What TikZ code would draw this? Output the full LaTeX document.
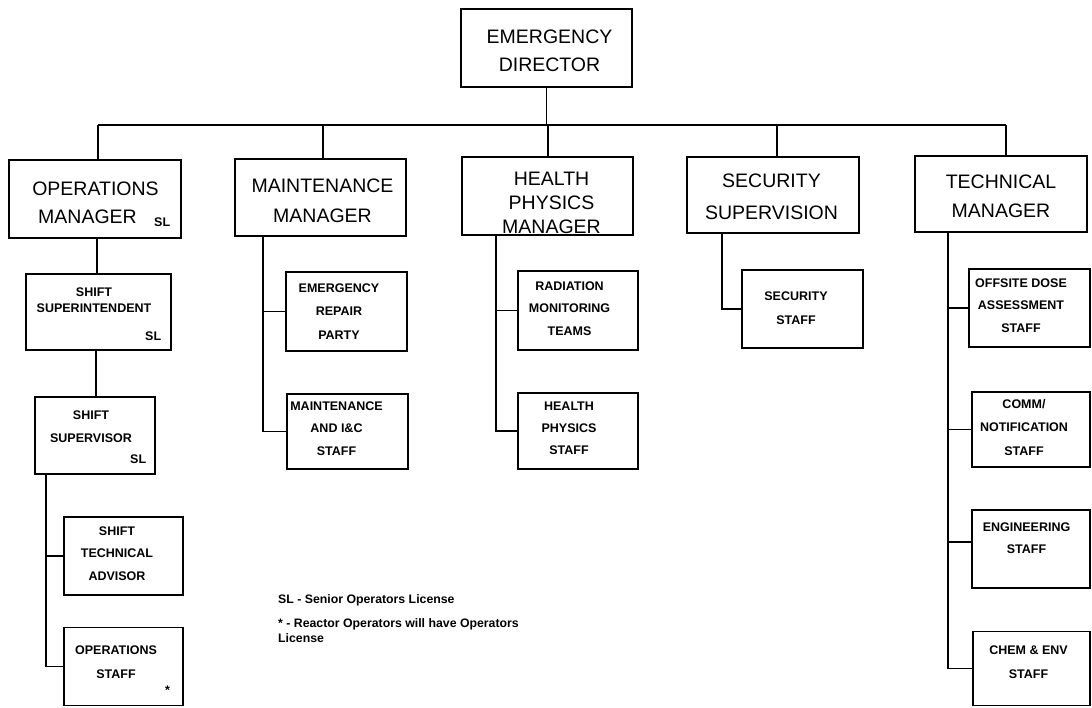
\documentclass[tikz,border=0pt]{standalone}
\usepackage{fontspec}
\setmainfont{Liberation Sans}
\usetikzlibrary{calc}
\newcommand\tx[3]{\kern#1\kern#1\raisebox{#2}[\height][\depth]{\begin{tabular}{@{}c@{}}#3\end{tabular}}}
\newcommand\fsz[2]{\fontsize{#1}{#2}\selectfont}
\tikzset{
  mgr/.style={draw, line width=1.6pt, inner sep=0pt, font=\fsz{19.5}{28}},
  staff/.style={draw, line width=1.6pt, inner sep=0pt, font=\bfseries\fsz{12.5}{23}},
  conn/.style={line width=1.6pt},
  note/.style={font=\bfseries\fsz{12.3}{15}, inner sep=0pt},
  slmark/.style={font=\bfseries\fsz{12.5}{15}, inner sep=0pt},
}
\begin{document}
\begin{tikzpicture}[x=1pt, y=-1pt]
\fill[white] (0,0) rectangle (1092,707);
\useasboundingbox (0,0) rectangle (1092,707);

% top level
\node[mgr, minimum width=171pt, minimum height=78pt] (ed) at (546.5,48) {\tx{3pt}{-3.4pt}{EMERGENCY\\DIRECTOR}};

% managers
\node[mgr, minimum width=172pt, minimum height=78pt] (om) at (95,199) {\tx{0.5pt}{-4.4pt}{OPERATIONS\\MANAGER\hspace*{16pt}}};
\node[mgr, minimum width=171pt, minimum height=77pt, font=\fsz{19.5}{30}] (mm) at (320.5,197.5) {\tx{2pt}{-3.5pt}{MAINTENANCE\\MANAGER}};
\node[mgr, minimum width=171pt, minimum height=78pt, font=\fsz{19.5}{24}] (hpm) at (547.5,196) {\tx{4pt}{-8.2pt}{HEALTH\\PHYSICS\\MANAGER}};
\node[mgr, minimum width=172pt, minimum height=76pt, font=\fsz{19.5}{32}] (ss) at (773,195) {\tx{-1.5pt}{-1.6pt}{SECURITY\\SUPERVISION}};
\node[mgr, minimum width=172pt, minimum height=76pt, font=\fsz{19.5}{29}] (tm) at (1001,194) {\tx{0pt}{-2.7pt}{TECHNICAL\\MANAGER}};

% operations chain
\node[staff, minimum width=145pt, minimum height=76pt, font=\bfseries\fsz{12.5}{16}] (ssup) at (98.5,312) {\tx{-4.5pt}{11.2pt}{SHIFT\\SUPERINTENDENT}};
\node[staff, minimum width=120pt, minimum height=77pt, font=\bfseries\fsz{12.5}{23}] (ssvr) at (95,435.5) {\tx{-4pt}{9.6pt}{SHIFT\\SUPERVISOR}};
\node[staff, minimum width=119pt, minimum height=78pt, font=\bfseries\fsz{12.5}{22.5}] (sta) at (123.5,556) {\tx{-6.5pt}{3pt}{SHIFT\\TECHNICAL\\ADVISOR}};
\node[staff, minimum width=119pt, minimum height=78pt, font=\bfseries\fsz{12.5}{24}] (os) at (123.5,666.5) {\tx{-7.5pt}{4.8pt}{OPERATIONS\\STAFF}};

% maintenance
\node[staff, minimum width=121pt, minimum height=79pt, font=\bfseries\fsz{12.5}{23.5}] (erp) at (346.5,311.5) {\tx{-7.5pt}{0.7pt}{EMERGENCY\\REPAIR\\PARTY}};
\node[staff, minimum width=121pt, minimum height=75pt, font=\bfseries\fsz{12.5}{22.5}] (mic) at (347.5,431.5) {\tx{-11pt}{3.5pt}{MAINTENANCE\\AND I\&C\\STAFF}};

% health physics
\node[staff, minimum width=120pt, minimum height=79pt, font=\bfseries\fsz{12.5}{22.5}] (rmt) at (578,310.5) {\tx{-8.5pt}{2.5pt}{RADIATION\\MONITORING\\TEAMS}};
\node[staff, minimum width=120pt, minimum height=76pt, font=\bfseries\fsz{12.5}{22}] (hps) at (578,431) {\tx{-9pt}{3.4pt}{HEALTH\\PHYSICS\\STAFF}};

% security
\node[staff, minimum width=121pt, minimum height=78pt, font=\bfseries\fsz{12.5}{24}] (secs) at (802.5,309) {\tx{-6.5pt}{1.8pt}{SECURITY\\STAFF}};

% technical
\node[staff, minimum width=121pt, minimum height=78pt, font=\bfseries\fsz{12.5}{22.5}] (oda) at (1029.5,308) {\tx{-8.5pt}{3pt}{OFFSITE DOSE\\ASSESSMENT\\STAFF}};
\node[staff, minimum width=118pt, minimum height=75pt, font=\bfseries\fsz{12.5}{23.5}] (cn) at (1031,429.5) {\tx{-7pt}{2.7pt}{COMM/\\NOTIFICATION\\STAFF}};
\node[staff, minimum width=118pt, minimum height=78pt, font=\bfseries\fsz{12.5}{22}] (eng) at (1031,549) {\tx{-4.5pt}{11.4pt}{ENGINEERING\\STAFF}};
\node[staff, minimum width=117pt, minimum height=74pt, font=\bfseries\fsz{12.5}{24}] (chem) at (1031.5,668.5) {\tx{-3pt}{6.8pt}{CHEM \& ENV\\STAFF}};

% SL marks and asterisk
\node[slmark, anchor=base west] (slom) at (154,226) {SL};
\node[slmark, anchor=base west] (slssup) at (145,340) {SL};
\node[slmark, anchor=base west] (slssvr) at (130,463) {SL};
\node[slmark, anchor=base west] (ast) at (165,694) {*};

% legend
\node[note, anchor=base west] (leg1) at (278,603) {SL - Senior Operators License};
\node[note, anchor=base west] (leg2) at (278,627) {* - Reactor Operators will have Operators};
\node[note, anchor=base west] (leg3) at (278,642) {License};

% bus
\coordinate (b1) at (98,125);
\coordinate (b2) at (323,125);
\coordinate (b3) at (548,125);
\coordinate (b4) at (777,125);
\coordinate (b5) at (1006,125);
\draw[conn] (ed.south) -- (ed.south |- b1);
\draw[conn] (b1) -- (b5);
\draw[conn] (b1) -- (b1 |- om.north);
\draw[conn] (b2) -- (b2 |- mm.north);
\draw[conn] (b3) -- (b3 |- hpm.north);
\draw[conn] (b4) -- (b4 |- ss.north);
\draw[conn] (b5) -- (b5 |- tm.north);

% operations chain connectors
\coordinate (x1) at (97,0);
\coordinate (x2) at (96,0);
\coordinate (x3) at (46,0);
\draw[conn] (x1 |- om.south) -- (x1 |- ssup.north);
\draw[conn] (x2 |- ssup.south) -- (x2 |- ssvr.north);
\draw[conn] (x3 |- ssvr.south) |- (os.west);
\draw[conn] (x3 |- sta.west) -- (sta.west);

% maintenance
\coordinate (x4) at (263,0);
\draw[conn] (x4 |- mm.south) |- (mic.west);
\draw[conn] (x4 |- erp.west) -- (erp.west);

% health physics
\coordinate (x5) at (496,0);
\draw[conn] (x5 |- hpm.south) |- (hps.west);
\draw[conn] (x5 |- rmt.west) -- (rmt.west);

% security
\coordinate (x6) at (722,0);
\draw[conn] (x6 |- ss.south) |- (secs.west);

% technical
\coordinate (x7) at (948,0);
\coordinate (engb) at ($(eng.west)+(0,-7)$);
\draw[conn] (x7 |- tm.south) |- (chem.west);
\draw[conn] (x7 |- oda.west) -- (oda.west);
\draw[conn] (x7 |- cn.west) -- (cn.west);
\draw[conn] (x7 |- engb) -- (engb);
\end{tikzpicture}
\end{document}
